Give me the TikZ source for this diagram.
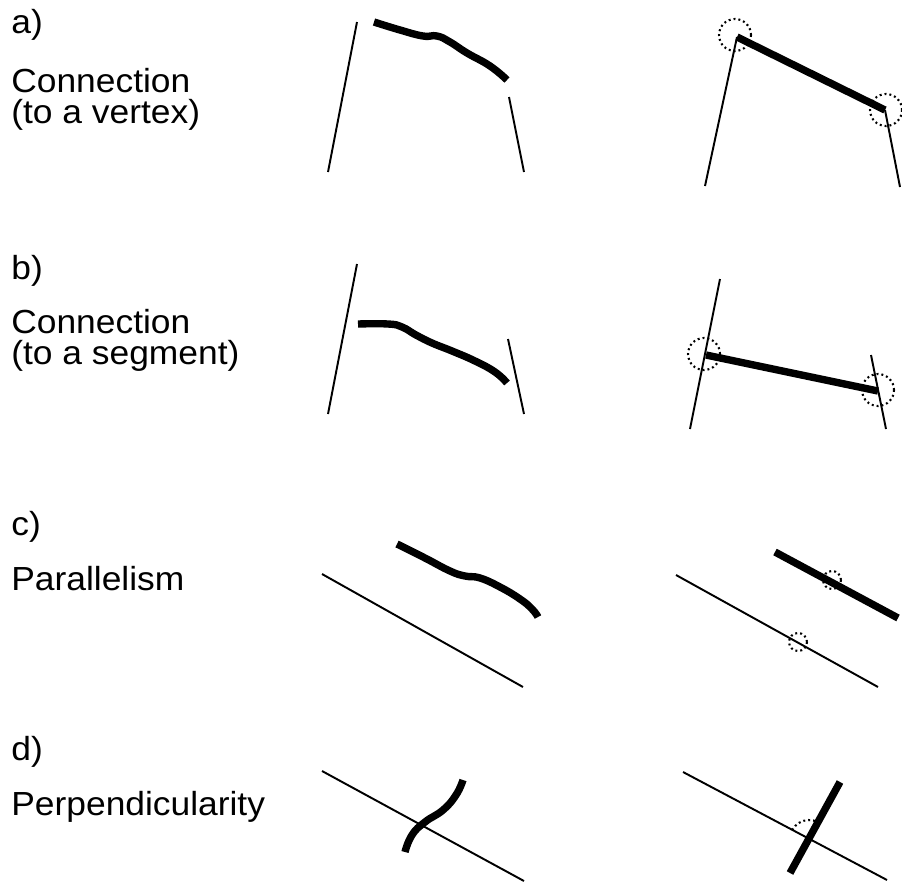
\documentclass[tikz,border=0pt]{standalone}
\usepackage{fontspec}
\setmainfont{Liberation Sans}[FakeStretch=1.06]
\begin{document}
\begin{tikzpicture}[
    x=0.02cm, y=-0.02cm,
    lbl/.style={anchor=base west, inner sep=0pt, align=left, font=\fontsize{19}{17.2}\selectfont},
    edge/.style={line width=1.1pt},
    stroke/.style={line width=4.2pt},
    ring/.style={dash pattern=on 1.1pt off 1.7pt, line width=1.2pt}
]
\useasboundingbox (0,0) rectangle (902,886);

% Подписи
\node[lbl] (la) at (11,33) {a)};
\node[lbl] (la1) at (11,123) {Connection\\(to a vertex)};
\node[lbl] (lb) at (11,279) {b)};
\node[lbl] (lb1) at (11,364) {Connection\\(to a segment)};
\node[lbl] (lc) at (11,535) {c)};
\node[lbl] (lc1) at (11,590) {Parallelism};
\node[lbl] (ld) at (11,760) {d)};
\node[lbl] (ld1) at (11,815) {Perpendicularity};

% a) до
\coordinate (a1) at (328,172);
\coordinate (a2) at (357,22);
\coordinate (a3) at (509,97);
\coordinate (a4) at (524,172);
\draw[edge] (a1) -- (a2);
\draw[edge] (a3) -- (a4);
\draw[stroke] plot[smooth, tension=0.8] coordinates {(374,22) (400,30) (423,36) (437,36) (450,42) (467,53) (490,66) (507,80)};

% a) после
\coordinate (av1) at (705,186);
\coordinate (av2) at (737,37);
\coordinate (av3) at (885,110);
\coordinate (av4) at (900,187);
\draw[edge] (av1) -- (av2);
\draw[edge] (av3) -- (av4);
\draw[stroke] (av2) -- (av3);
\draw[ring] (735,35) circle[radius=16];
\draw[ring] (886,110) circle[radius=16];

% b) до
\coordinate (b1) at (328,414);
\coordinate (b2) at (357,264);
\coordinate (b3) at (508,339);
\coordinate (b4) at (524,414);
\draw[edge] (b1) -- (b2);
\draw[edge] (b3) -- (b4);
\draw[stroke] plot[smooth, tension=0.8] coordinates {(358,324) (388,324) (402,327) (416,335) (432,343) (452,351) (475,361) (495,372) (507,383)};

% b) после
\coordinate (bv1) at (690,429);
\coordinate (bv2) at (720,279);
\coordinate (bv3) at (871,355);
\coordinate (bv4) at (886,429);
\coordinate (bs1) at (706,355);
\coordinate (bs2) at (878,391);
\draw[edge] (bv1) -- (bv2);
\draw[edge] (bv3) -- (bv4);
\draw[stroke] (bs1) -- (bs2);
\draw[ring] (704,354) circle[radius=16];
\draw[ring] (878,390) circle[radius=16];

% c) до
\coordinate (c1) at (322,574);
\coordinate (c2) at (523,687);
\draw[edge] (c1) -- (c2);
\draw[stroke] plot[smooth, tension=0.8] coordinates {(397,544) (425,558) (450,571) (465,576) (480,578) (500,587) (520,599) (532,609) (538,617)};

% c) после
\coordinate (cv1) at (676,575);
\coordinate (cv2) at (878,687);
\coordinate (cs1) at (775,552);
\coordinate (cs2) at (898,618);
\draw[edge] (cv1) -- (cv2);
\draw[stroke] (cs1) -- (cs2);
\draw[ring] (832,580) circle[radius=9];
\draw[ring] (798,642) circle[radius=9];

% d) до
\coordinate (d1) at (322,771);
\coordinate (d2) at (524,881);
\draw[edge] (d1) -- (d2);
\draw[stroke] plot[smooth, tension=0.8] coordinates {(405,852) (412,835) (425,822) (443,810) (456,795) (463,780)};

% d) после
\coordinate (dv1) at (683,772);
\coordinate (dv2) at (887,880);
\coordinate (ds1) at (790,873);
\coordinate (ds2) at (840,782);
\coordinate (dx) at (809,839);
\draw[edge] (dv1) -- (dv2);
\draw[stroke] (ds1) -- (ds2);
\draw[ring] (dx) ++(-152:19) arc[start angle=-152, end angle=-61, radius=19];
\end{tikzpicture}
\end{document}
